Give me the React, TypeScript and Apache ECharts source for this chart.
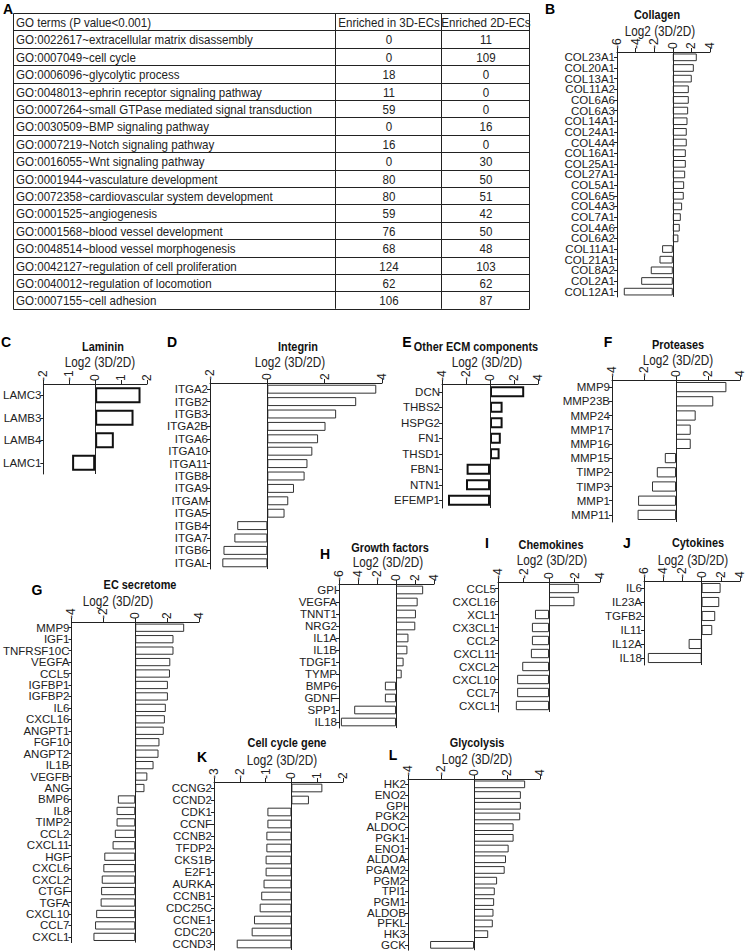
import React, { useEffect, useRef } from "react";
import * as echarts from "echarts";

// ---------- Table (panel A) ----------
const tableHeader = ["GO terms (P value<0.001)", "Enriched in 3D-ECs", "Enriched 2D-ECs"];
const goTerms = [
  "GO:0022617~extracellular matrix disassembly",
  "GO:0007049~cell cycle",
  "GO:0006096~glycolytic process",
  "GO:0048013~ephrin receptor signaling pathway",
  "GO:0007264~small GTPase mediated signal transduction",
  "GO:0030509~BMP signaling pathway",
  "GO:0007219~Notch signaling pathway",
  "GO:0016055~Wnt signaling pathway",
  "GO:0001944~vasculature development",
  "GO:0072358~cardiovascular system development",
  "GO:0001525~angiogenesis",
  "GO:0001568~blood vessel development",
  "GO:0048514~blood vessel morphogenesis",
  "GO:0042127~regulation of cell proliferation",
  "GO:0040012~regulation of locomotion",
  "GO:0007155~cell adhesion",
];
const enriched3D = [0, 0, 18, 11, 59, 0, 16, 0, 80, 80, 59, 76, 68, 124, 62, 106];
const enriched2D = [11, 109, 0, 0, 0, 16, 0, 30, 50, 51, 42, 50, 48, 103, 62, 87];

// ---------- Bar panels ----------
const collagenGenes = ["COL23A1", "COL20A1", "COL13A1", "COL11A2", "COL6A6", "COL6A3", "COL14A1", "COL24A1", "COL4A4", "COL16A1", "COL25A1", "COL27A1", "COL5A1", "COL6A5", "COL4A3", "COL7A1", "COL4A6", "COL6A2", "COL11A1", "COL21A1", "COL8A2", "COL2A1", "COL12A1"];
const collagenValues = [2.58, 2.26, 2.04, 1.72, 1.72, 1.65, 1.58, 1.5, 1.5, 1.4, 1.4, 1.33, 1.22, 1.18, 1.0, 0.86, 0.75, 0.6, -1.15, -1.43, -2.37, -3.4, -5.27];

const lamininGenes = ["LAMC3", "LAMB3", "LAMB4", "LAMC1"];
const lamininValues = [1.75, 1.48, 0.72, -0.89];

const integrinGenes = ["ITGA2", "ITGB2", "ITGB3", "ITGA2B", "ITGA6", "ITGA10", "ITGA11", "ITGB8", "ITGA9", "ITGAM", "ITGA5", "ITGB4", "ITGA7", "ITGB6", "ITGAL"];
const integrinValues = [3.8, 3.1, 2.4, 2.03, 1.77, 1.57, 1.4, 1.3, 0.93, 0.73, 0.6, -1.05, -1.15, -1.53, -1.57];

const ecmGenes = ["DCN", "THBS2", "HSPG2", "FN1", "THSD1", "FBN1", "NTN1", "EFEMP1"];
const ecmValues = [2.85, 1.05, 1.05, 0.9, 0.8, -1.95, -2.0, -3.5];

const proteaseGenes = ["MMP9", "MMP23B", "MMP24", "MMP17", "MMP16", "MMP15", "TIMP2", "TIMP3", "MMP1", "MMP11"];
const proteaseValues = [3.15, 2.33, 1.23, 0.92, 0.92, -0.7, -1.2, -1.5, -2.37, -2.4];

const secretomeGenes = ["MMP9", "IGF1", "TNFRSF10C", "VEGFA", "CCL5", "IGFBP1", "IGFBP2", "IL6", "CXCL16", "ANGPT1", "FGF10", "ANGPT2", "IL1B", "VEGFB", "ANG", "BMP6", "IL8", "TIMP2", "CCL2", "CXCL11", "HGF", "CXCL6", "CXCL2", "CTGF", "TGFA", "CXCL10", "CCL7", "CXCL1"];
const secretomeValues = [3.07, 2.4, 2.4, 2.2, 2.18, 2.05, 2.05, 1.92, 1.86, 1.79, 1.52, 1.46, 1.15, 0.76, 0.58, -1.09, -1.17, -1.17, -1.28, -1.42, -1.94, -2.0, -2.1, -2.14, -2.17, -2.45, -2.52, -2.62];

const growthGenes = ["GPI", "VEGFA", "TNNT1", "NRG2", "IL1A", "IL1B", "TDGF1", "TYMP", "BMP6", "GDNF", "SPP1", "IL18"];
const growthValues = [2.86, 2.28, 2.1, 2.03, 1.31, 1.2, 0.8, 0.6, -1.17, -1.17, -4.4, -5.8];

const chemokineGenes = ["CCL5", "CXCL16", "XCL1", "CX3CL1", "CCL2", "CXCL11", "CXCL2", "CXCL10", "CCL7", "CXCL1"];
const chemokineValues = [2.34, 2.0, -1.1, -1.34, -1.34, -1.42, -2.1, -2.5, -2.5, -2.6];

const cytokineGenes = ["IL6", "IL23A", "TGFB2", "IL11", "IL12A", "IL18"];
const cytokineValues = [1.98, 1.84, 1.42, 1.11, -1.35, -5.6];

const cellCycleGenes = ["CCNG2", "CCND2", "CDK1", "CCNF", "CCNB2", "TFDP2", "CKS1B", "E2F1", "AURKA", "CCNB1", "CDC25C", "CCNE1", "CDC20", "CCND3"];
const cellCycleValues = [1.2, 0.68, -0.93, -0.93, -0.97, -0.97, -1.0, -1.0, -1.08, -1.17, -1.23, -1.45, -1.54, -2.12];

const glycolysisGenes = ["HK2", "ENO2", "GPI", "PGK2", "ALDOC", "PGK1", "ENO1", "ALDOA", "PGAM2", "PGM2", "TPI1", "PGM1", "ALDOB", "PFKL", "HK3", "GCK"];
const glycolysisValues = [3.1, 2.84, 2.84, 2.8, 2.4, 2.4, 2.1, 1.94, 1.86, 1.4, 1.26, 1.22, 1.18, 1.14, 0.86, -2.66];

const REG = '"Liberation Sans", Arial, sans-serif';
const INK = "#222";
const NARROW_SCALE = 0.84;
const TABLE_SCALE = 0.89;

type Panel = {
  letter: string; title: string; names: string[]; values: number[];
  min: number; max: number; interval: number;
  left: number; right: number; top: number; pitch: number;
  lx: number; ly: number; tx: number; ty: number; sx: number; sy: number; thick?: boolean;
};

const panels: Panel[] = [
  { letter: "B", title: "Collagen", names: collagenGenes, values: collagenValues, min: -6, max: 4, interval: 2, left: 617, right: 710, top: 52, pitch: 10.65, lx: 550, ly: 9, tx: 657, ty: 15, sx: 660, sy: 31 },
  { letter: "C", title: "Laminin", names: lamininGenes, values: lamininValues, min: -2, max: 2, interval: 1, left: 38, right: 147, top: 384, pitch: 22.5, lx: 6, ly: 342, tx: 103, ty: 347, sx: 100, sy: 362, thick: true },
  { letter: "D", title: "Integrin", names: integrinGenes, values: integrinValues, min: -2, max: 4, interval: 2, left: 210, right: 382, top: 383, pitch: 12.4, lx: 172, ly: 342, tx: 298, ty: 347, sx: 290, sy: 362 },
  { letter: "E", title: "Other ECM components", names: ecmGenes, values: ecmValues, min: -4, max: 4, interval: 2, left: 442, right: 538, top: 384, pitch: 15.5, lx: 407, ly: 342, tx: 476, ty: 347, sx: 487, sy: 362, thick: true },
  { letter: "F", title: "Proteases", names: proteaseGenes, values: proteaseValues, min: -4, max: 4, interval: 2, left: 612, right: 740, top: 380, pitch: 14.2, lx: 608, ly: 342, tx: 678, ty: 345, sx: 678, sy: 360 },
  { letter: "G", title: "EC secretome", names: secretomeGenes, values: secretomeValues, min: -4, max: 4, interval: 2, left: 66, right: 199, top: 622, pitch: 11.45, lx: 37, ly: 590, tx: 140, ty: 585, sx: 118, sy: 601 },
  { letter: "H", title: "Growth factors", names: growthGenes, values: growthValues, min: -6, max: 4, interval: 2, left: 339, right: 434, top: 584, pitch: 12.0, lx: 325, ly: 554, tx: 390, ty: 548, sx: 388, sy: 562 },
  { letter: "I", title: "Chemokines", names: chemokineGenes, values: chemokineValues, min: -4, max: 4, interval: 2, left: 498, right: 600, top: 582, pitch: 13, lx: 487, ly: 543, tx: 551, ty: 545, sx: 552, sy: 560 },
  { letter: "J", title: "Cytokines", names: cytokineGenes, values: cytokineValues, min: -6, max: 4, interval: 2, left: 644, right: 740, top: 581, pitch: 14, lx: 627, ly: 543, tx: 698, ty: 543, sx: 693, sy: 560 },
  { letter: "K", title: "Cell cycle gene", names: cellCycleGenes, values: cellCycleValues, min: -3, max: 2, interval: 1, left: 214, right: 343, top: 782, pitch: 12, lx: 202, ly: 757, tx: 287, ty: 743, sx: 282, sy: 760 },
  { letter: "L", title: "Glycolysis", names: glycolysisGenes, values: glycolysisValues, min: -4, max: 4, interval: 2, left: 408, right: 540, top: 779, pitch: 10.7, lx: 393, ly: 755, tx: 477, ty: 743, sx: 477, sy: 759 },
];

// table geometry
const T_LEFT = 13, T_TOP = 13, T_ROW = 17.4, T_C1 = 335, T_C2 = 441, T_RIGHT = 529;

function txt(x: number, y: number, text: string, font: string, align: string, fill = INK, scaleX = NARROW_SCALE) {
  return { type: "text", x, y, scaleX, style: { text, font, fill, textAlign: align, textVerticalAlign: "middle" } };
}

function buildOption() {
  const graphics: any[] = [];
  const nRows = goTerms.length + 1;
  const tBottom = T_TOP + nRows * T_ROW;
  graphics.push(txt(8, 9, "A", `bold 14px ${REG}`, "center", "#000", 1));
  graphics.push({ type: "rect", shape: { x: T_LEFT + 0.5, y: T_TOP + 0.5, width: T_RIGHT - T_LEFT, height: Math.round(tBottom - T_TOP) }, style: { fill: "none", stroke: INK, lineWidth: 1 } });
  for (let i = 1; i < nRows; i++) {
    const y = Math.round(T_TOP + i * T_ROW) + 0.5;
    graphics.push({ type: "line", shape: { x1: T_LEFT, y1: y, x2: T_RIGHT, y2: y }, style: { stroke: INK, lineWidth: 1 } });
  }
  [T_C1, T_C2].forEach((x) => graphics.push({ type: "line", shape: { x1: x + 0.5, y1: T_TOP, x2: x + 0.5, y2: tBottom }, style: { stroke: INK, lineWidth: 1 } }));
  const cellFont = `13px ${REG}`;
  const rows = [tableHeader].concat(goTerms.map((g, i) => [g, String(enriched3D[i]), String(enriched2D[i])]));
  rows.forEach((r, i) => {
    const cy = T_TOP + i * T_ROW + T_ROW / 2 + 1;
    graphics.push(txt(T_LEFT + 3, cy, r[0], cellFont, "left", INK, TABLE_SCALE));
    graphics.push(txt((T_C1 + T_C2) / 2 + 1, cy, r[1], cellFont, "center", INK, TABLE_SCALE));
    graphics.push(txt((T_C2 + T_RIGHT) / 2 + 1, cy, r[2], cellFont, "center", INK, TABLE_SCALE));
  });

  const grid: any[] = [], xAxis: any[] = [], yAxis: any[] = [], series: any[] = [];
  panels.forEach((p, i) => {
    graphics.push(txt(p.lx, p.ly, p.letter, `bold 14px ${REG}`, "center", "#000", 1));
    graphics.push(txt(p.tx, p.ty, p.title, `bold 13px ${REG}`, "center", "#111"));
    graphics.push(txt(p.sx, p.sy, "Log2 (3D/2D)", `14px ${REG}`, "center", INK));
    grid.push({ left: p.left, top: p.top, width: p.right - p.left, height: p.pitch * p.names.length, containLabel: false });
    xAxis.push({
      gridIndex: i, type: "value", position: "top", min: p.min, max: p.max, interval: p.interval,
      axisLine: { show: true, onZero: false, lineStyle: { color: INK, width: 1 } },
      axisTick: { show: true, length: 4, lineStyle: { color: INK } },
      splitLine: { show: false },
      axisLabel: { rotate: -90, fontSize: 12, fontFamily: REG, color: INK, margin: 3, showMinLabel: true, showMaxLabel: true },
    });
    yAxis.push({
      gridIndex: i, type: "category", data: p.names, inverse: true,
      axisLine: { show: true, onZero: false, lineStyle: { color: INK, width: 1 } },
      axisTick: { show: true, length: 3, alignWithLabel: true, lineStyle: { color: INK } },
      axisLabel: { interval: 0, fontSize: 11.5, fontFamily: REG, color: INK, margin: 2 },
      splitLine: { show: false },
    });
    series.push({
      type: "bar", xAxisIndex: i, yAxisIndex: i, data: p.values, barCategoryGap: "28%",
      itemStyle: { color: "#fff", borderColor: p.thick ? "#111" : "#333", borderWidth: p.thick ? 2 : 1 },
      markLine: { silent: true, symbol: "none", label: { show: false }, lineStyle: { color: INK, width: 1, type: "solid" }, data: [{ xAxis: 0 }] },
    });
  });

  return { animation: false, backgroundColor: "#fff", grid, xAxis, yAxis, series, graphic: graphics };
}

export default function App() {
  const ref = useRef<HTMLDivElement>(null);
  useEffect(() => {
    if (!ref.current) return;
    const chart = echarts.init(ref.current, undefined, { renderer: "svg" });
    chart.setOption(buildOption());
    return () => chart.dispose();
  }, []);
  return <div ref={ref} style={{ position: "absolute", left: 0, top: 0, width: 750, height: 951, background: "#fff" }} />;
}
